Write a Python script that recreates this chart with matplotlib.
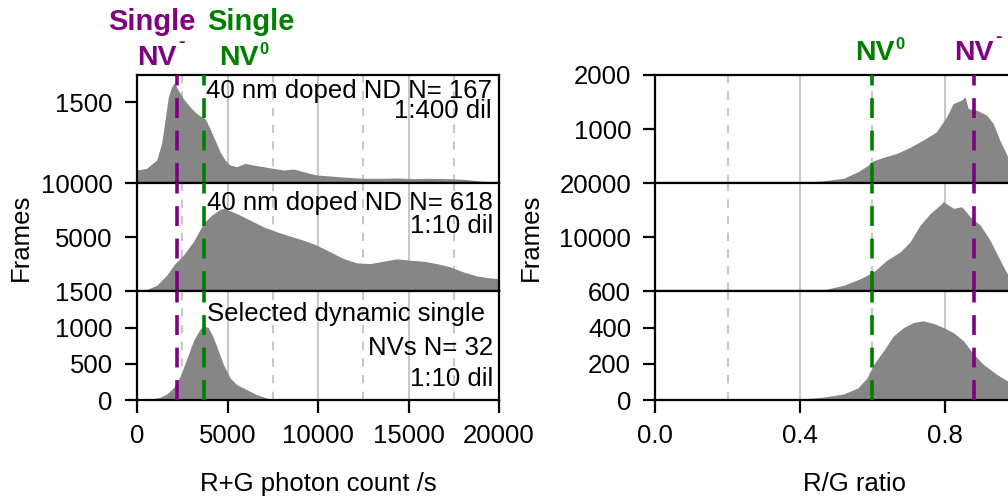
import matplotlib
matplotlib.use("Agg")
import matplotlib.pyplot as plt
import numpy as np

plt.rcParams['font.family'] = ['Liberation Sans', 'DejaVu Sans']
FS = 18.5
BOLD_FS = 20.5

# R+G photon count histograms (counts/s vs frames)
rg_x_top = [0, 530, 1090, 1360, 1550, 1730, 1915, 2050, 2150, 2280, 2560, 2930, 3300, 3570,
            3760, 4030, 4310, 4590, 4860, 5140, 5510, 5970, 6430, 6980, 7530, 8090, 8640,
            9190, 9930, 10670, 11590, 12510, 13430, 14350, 15270, 16190, 17110, 18030,
            18950, 19880, 20000]
rg_y_top = [245, 276, 430, 736, 1166, 1595, 1779, 1853, 1800, 1718, 1564, 1411, 1288, 1227,
            1196, 1012, 798, 583, 430, 337, 307, 368, 337, 307, 276, 245, 264,
            215, 153, 135, 110, 92, 92, 98, 86, 92, 86, 74,
            43, 18, 15]

rg_x_mid = [0, 530, 1090, 1640, 2100, 2560, 3110, 3670, 4130, 4590, 4780, 5140, 5690, 6240,
            6980, 7720, 8460, 9190, 9930, 10670, 11400, 12140, 12880, 13610, 14350, 15090,
            15820, 16560, 17300, 18030, 18770, 19510, 20000]
rg_y_mid = [0, 155, 557, 1486, 2570, 3344, 4582, 6285, 7059, 7585, 7678, 7461, 7059, 6594,
            5975, 5511, 5108, 4737, 4272, 3653, 3034, 2632, 2570, 2786, 3003, 2879,
            2786, 2570, 2260, 1796, 1424, 1238, 1176]

rg_x_bot = [0, 720, 1270, 1640, 2010, 2380, 2740, 3110, 3480, 3670, 3940, 4220, 4500, 4770,
            5140, 5510, 6060, 6610, 7160, 7530, 8000, 20000]
rg_y_bot = [0, 9, 37, 83, 167, 329, 560, 815, 977, 1023, 1000, 861, 676, 491,
            306, 213, 144, 74, 28, 5, 0, 0]

# R/G ratio histograms
ratio_x_top = [0.0, 0.2, 0.40, 0.46, 0.52, 0.56, 0.585, 0.603, 0.63, 0.667, 0.704, 0.74,
               0.777, 0.805, 0.823, 0.846, 0.856, 0.865, 0.888, 0.916, 0.934, 0.952, 0.974,
               1.0, 1.05, 1.1]
ratio_y_top = [12, 12, 18, 43, 92, 215, 319, 417, 479, 552, 663, 798,
               951, 1227, 1472, 1534, 1595, 1380, 1350, 1258, 1104, 798, 491,
               250, 80, 20]

ratio_x_mid = [0.0, 0.40, 0.46, 0.52, 0.567, 0.603, 0.64, 0.677, 0.704, 0.732, 0.76, 0.787,
               0.796, 0.824, 0.847, 0.87, 0.898, 0.925, 0.953, 0.975, 1.0, 1.05, 1.1]
ratio_y_mid = [0, 0, 186, 1115, 2353, 3591, 5759, 7307, 9164, 12260, 14427, 15975,
               16594, 15356, 15666, 13808, 12260, 9474, 5759, 2972, 1000, 200, 0]

ratio_x_bot = [0.0, 0.2, 0.40, 0.46, 0.52, 0.56, 0.585, 0.603, 0.63, 0.658, 0.686, 0.714,
               0.74, 0.77, 0.796, 0.824, 0.852, 0.88, 0.907, 0.944, 0.975, 1.0, 1.05, 1.1]
ratio_y_bot = [3, 4, 4, 15, 33, 67, 122, 196, 270, 354, 400, 428,
               437, 422, 400, 372, 326, 252, 196, 141, 104, 80, 40, 10]

rg_labels = [["40 nm doped ND N= 167", "1:400 dil"],
             ["40 nm doped ND N= 618", "1:10 dil"],
             ["Selected dynamic single", "NVs N= 32", "1:10 dil"]]

nvm_rg, nv0_rg = 2200, 3700
nv0_ratio, nvm_ratio = 0.6, 0.88

PURPLE = '#800080'
GREEN = '#008000'
HIST = '#868686'
GRID = '#c8c8c8'

W, H = 1008, 499
fig = plt.figure(figsize=(W / 100, H / 100), dpi=100)


def px_axes(x0, x1, ytop, ybot):
    return fig.add_axes([x0 / W, 1 - ybot / H, (x1 - x0) / W, (ybot - ytop) / H])


rows = [(75, 183.3), (183.3, 291.3), (291.3, 400)]
left_axes = [px_axes(137, 499, t, b) for t, b in rows]
right_axes = [px_axes(655.4, 1053.3, t, b) for t, b in rows]

left_data = [(rg_x_top, rg_y_top), (rg_x_mid, rg_y_mid), (rg_x_bot, rg_y_bot)]
right_data = [(ratio_x_top, ratio_y_top), (ratio_x_mid, ratio_y_mid), (ratio_x_bot, ratio_y_bot)]
left_ylims = [2000, 10000, 1500]
left_yticks = [[1500], [5000, 10000], [0, 500, 1000, 1500]]
right_ylims = [2000, 20000, 600]
right_yticks = [[1000, 2000], [10000, 20000], [0, 200, 400, 600]]


def style(ax):
    for s in ax.spines.values():
        s.set_linewidth(1.6)
    ax.tick_params(direction='out', length=9, width=1.6, labelsize=FS, pad=8.5)


for i, ax in enumerate(left_axes):
    x, y = left_data[i]
    for g in [5000, 10000, 15000]:
        ax.axvline(g, color=GRID, lw=1.5, zorder=0)
    for g in [2500, 7500, 12500, 17500]:
        ax.axvline(g, color=GRID, lw=1.5, dashes=(4, 4), zorder=0)
    ax.fill_between(x, y, color=HIST, lw=0, zorder=1)
    ax.axvline(nvm_rg, color=PURPLE, lw=2.6, dashes=(5.5, 3.5), zorder=3)
    ax.axvline(nv0_rg, color=GREEN, lw=2.6, dashes=(5.5, 3.5), zorder=3)
    ax.set_xlim(0, 20000)
    ax.set_ylim(0, left_ylims[i])
    ax.set_yticks(left_yticks[i])
    if i == 2:
        ax.set_xticks([0, 5000, 10000, 15000, 20000])
    style(ax)
    if i < 2:
        ax.tick_params(axis='x', bottom=False, labelbottom=False)

for i, ax in enumerate(right_axes):
    x, y = right_data[i]
    for g in [0.4, 0.8]:
        ax.axvline(g, color=GRID, lw=1.5, zorder=0)
    for g in [0.2, 0.6, 1.0]:
        ax.axvline(g, color=GRID, lw=1.5, dashes=(4, 4), zorder=0)
    ax.fill_between(x, y, color=HIST, lw=0, zorder=1)
    ax.axvline(nv0_ratio, color=GREEN, lw=2.6, dashes=(5.5, 3.5), zorder=3)
    ax.axvline(nvm_ratio, color=PURPLE, lw=2.6, dashes=(5.5, 3.5), zorder=3)
    ax.set_xlim(0, 1.1)
    ax.set_ylim(0, right_ylims[i])
    ax.set_yticks(right_yticks[i])
    if i == 2:
        ax.set_xticks([0.0, 0.4, 0.8])
        ax.set_xticklabels(['0.0', '0.4', '0.8'])
    style(ax)
    if i < 2:
        ax.tick_params(axis='x', bottom=False, labelbottom=False)

# sample annotations, right-aligned inside each left panel
text_pos = [[(0.980, 0.785), (0.980, 0.600)],
            [(0.984, 0.753), (0.984, 0.537)],
            [(0.961, 0.724), (0.984, 0.417), (0.984, 0.126)]]
for ax, lines, pos in zip(left_axes, rg_labels, text_pos):
    for s, (tx, ty) in zip(lines, pos):
        ax.text(tx, ty, s, transform=ax.transAxes, ha='right', va='baseline',
                fontsize=FS, zorder=4)


def state_label(ax, x, y, sup, color):
    t = ax.text(x, y, 'NV', transform=ax.get_xaxis_transform(), ha='center',
                va='baseline', fontsize=BOLD_FS, fontweight='bold', color=color,
                clip_on=False)
    if sup == '-':
        ax.annotate('-', xy=(1, 1), xycoords=t, xytext=(0.8, -1.5),
                    textcoords='offset points', ha='left', va='baseline',
                    fontsize=14, fontweight='bold', color=color)
    else:
        ax.annotate(sup, xy=(1, 1), xycoords=t, xytext=(0.5, 2),
                    textcoords='offset points', ha='left', va='top',
                    fontsize=12, fontweight='bold', color=color)


# state labels above the top panels
top_l = left_axes[0]
tr = top_l.get_xaxis_transform()
top_l.text(800, 1.415, 'Single', transform=tr, ha='center', va='baseline',
           fontsize=BOLD_FS + 0.5, fontweight='bold', color=PURPLE, clip_on=False)
top_l.text(6270, 1.415, 'Single', transform=tr, ha='center', va='baseline',
           fontsize=BOLD_FS + 0.5, fontweight='bold', color=GREEN, clip_on=False)
state_label(top_l, 1105, 1.092, '-', PURPLE)
state_label(top_l, 5608, 1.092, '0', GREEN)

top_r = right_axes[0]
state_label(top_r, 0.607, 1.139, '0', GREEN)
state_label(top_r, 0.881, 1.139, '-', PURPLE)

left_axes[1].set_ylabel('Frames', fontsize=FS)
left_axes[1].yaxis.set_label_coords(-0.287, 0.5)
right_axes[1].set_ylabel('Frames', fontsize=FS)
right_axes[1].yaxis.set_label_coords(-0.2825, 0.5)

left_axes[2].set_xlabel('R+G photon count /s', fontsize=FS)
left_axes[2].xaxis.set_label_coords(0.5, -0.665)
right_axes[2].set_xlabel('R/G ratio', fontsize=FS)
right_axes[2].xaxis.set_label_coords(0.5, -0.665)

fig.savefig('out.png', dpi=100)
